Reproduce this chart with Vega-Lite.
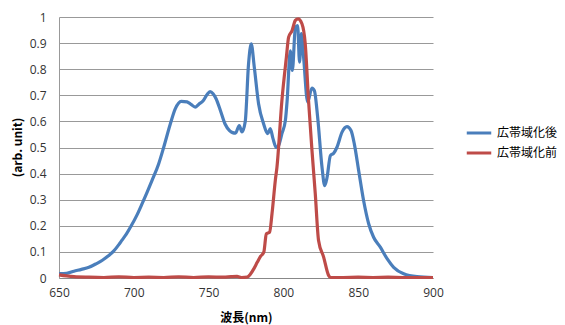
{
  "$schema": "https://vega.github.io/schema/vega-lite/v6.json",
  "width": 374,
  "height": 261,
  "autosize": {"type": "none"},
  "padding": {"left": 59, "top": 17, "right": 132, "bottom": 47},
  "background": "white",
  "config": {
    "view": {"stroke": null},
    "font": "Noto Sans CJK JP"
  },
  "data": {
    "values": [
      {"s": "広帯域化後", "x": 650, "y": 0.017}, {"s": "広帯域化後", "x": 655, "y": 0.018}, {"s": "広帯域化後", "x": 660, "y": 0.026}, {"s": "広帯域化後", "x": 665, "y": 0.033},
      {"s": "広帯域化後", "x": 670, "y": 0.041}, {"s": "広帯域化後", "x": 675, "y": 0.055}, {"s": "広帯域化後", "x": 679, "y": 0.068}, {"s": "広帯域化後", "x": 683, "y": 0.085},
      {"s": "広帯域化後", "x": 686.5, "y": 0.103}, {"s": "広帯域化後", "x": 690, "y": 0.128}, {"s": "広帯域化後", "x": 692, "y": 0.144}, {"s": "広帯域化後", "x": 695, "y": 0.168},
      {"s": "広帯域化後", "x": 698, "y": 0.197}, {"s": "広帯域化後", "x": 702, "y": 0.24}, {"s": "広帯域化後", "x": 705.5, "y": 0.284}, {"s": "広帯域化後", "x": 709, "y": 0.33},
      {"s": "広帯域化後", "x": 712.2, "y": 0.374}, {"s": "広帯域化後", "x": 716.6, "y": 0.437}, {"s": "広帯域化後", "x": 720, "y": 0.501}, {"s": "広帯域化後", "x": 724.4, "y": 0.59},
      {"s": "広帯域化後", "x": 727.7, "y": 0.648}, {"s": "広帯域化後", "x": 731.7, "y": 0.677}, {"s": "広帯域化後", "x": 735.6, "y": 0.675}, {"s": "広帯域化後", "x": 738.5, "y": 0.664},
      {"s": "広帯域化後", "x": 741, "y": 0.655}, {"s": "広帯域化後", "x": 743.5, "y": 0.666}, {"s": "広帯域化後", "x": 746.5, "y": 0.68}, {"s": "広帯域化後", "x": 749, "y": 0.703},
      {"s": "広帯域化後", "x": 751, "y": 0.714}, {"s": "広帯域化後", "x": 753, "y": 0.706}, {"s": "広帯域化後", "x": 755, "y": 0.687}, {"s": "広帯域化後", "x": 758, "y": 0.64},
      {"s": "広帯域化後", "x": 761, "y": 0.59}, {"s": "広帯域化後", "x": 764, "y": 0.565}, {"s": "広帯域化後", "x": 766, "y": 0.557}, {"s": "広帯域化後", "x": 768, "y": 0.555},
      {"s": "広帯域化後", "x": 770.5, "y": 0.584}, {"s": "広帯域化後", "x": 772.3, "y": 0.56}, {"s": "広帯域化後", "x": 774.5, "y": 0.6}, {"s": "広帯域化後", "x": 776.7, "y": 0.82},
      {"s": "広帯域化後", "x": 778.5, "y": 0.897}, {"s": "広帯域化後", "x": 780.5, "y": 0.81}, {"s": "広帯域化後", "x": 783.4, "y": 0.668}, {"s": "広帯域化後", "x": 786.8, "y": 0.59},
      {"s": "広帯域化後", "x": 789.5, "y": 0.553}, {"s": "広帯域化後", "x": 791.2, "y": 0.572}, {"s": "広帯域化後", "x": 793, "y": 0.535}, {"s": "広帯域化後", "x": 795.2, "y": 0.5},
      {"s": "広帯域化後", "x": 796.8, "y": 0.508}, {"s": "広帯域化後", "x": 799, "y": 0.553}, {"s": "広帯域化後", "x": 801.3, "y": 0.603}, {"s": "広帯域化後", "x": 802.5, "y": 0.68},
      {"s": "広帯域化後", "x": 804.6, "y": 0.87}, {"s": "広帯域化後", "x": 806, "y": 0.795}, {"s": "広帯域化後", "x": 808, "y": 0.96}, {"s": "広帯域化後", "x": 809.5, "y": 0.967},
      {"s": "広帯域化後", "x": 810.8, "y": 0.827}, {"s": "広帯域化後", "x": 812, "y": 0.936}, {"s": "広帯域化後", "x": 813.5, "y": 0.846}, {"s": "広帯域化後", "x": 816.2, "y": 0.674},
      {"s": "広帯域化後", "x": 819.1, "y": 0.728}, {"s": "広帯域化後", "x": 820.7, "y": 0.718}, {"s": "広帯域化後", "x": 822.9, "y": 0.616}, {"s": "広帯域化後", "x": 825.8, "y": 0.425},
      {"s": "広帯域化後", "x": 827.6, "y": 0.354}, {"s": "広帯域化後", "x": 829.2, "y": 0.386}, {"s": "広帯域化後", "x": 831.4, "y": 0.469}, {"s": "広帯域化後", "x": 833.6, "y": 0.478},
      {"s": "広帯域化後", "x": 835.8, "y": 0.501}, {"s": "広帯域化後", "x": 839.2, "y": 0.559}, {"s": "広帯域化後", "x": 842.5, "y": 0.58}, {"s": "広帯域化後", "x": 845.2, "y": 0.565},
      {"s": "広帯域化後", "x": 847.4, "y": 0.514}, {"s": "広帯域化後", "x": 850.3, "y": 0.412}, {"s": "広帯域化後", "x": 853.6, "y": 0.297}, {"s": "広帯域化後", "x": 857, "y": 0.208},
      {"s": "広帯域化後", "x": 860.3, "y": 0.156}, {"s": "広帯域化後", "x": 864.8, "y": 0.118}, {"s": "広帯域化後", "x": 869.3, "y": 0.074}, {"s": "広帯域化後", "x": 873.7, "y": 0.041},
      {"s": "広帯域化後", "x": 880.4, "y": 0.016}, {"s": "広帯域化後", "x": 889.3, "y": 0.005}, {"s": "広帯域化後", "x": 900, "y": 0.002},
      {"s": "広帯域化前", "x": 650, "y": 0.012}, {"s": "広帯域化前", "x": 655, "y": 0.008}, {"s": "広帯域化前", "x": 660, "y": 0.005}, {"s": "広帯域化前", "x": 670, "y": 0.003},
      {"s": "広帯域化前", "x": 680, "y": 0.002}, {"s": "広帯域化前", "x": 690, "y": 0.004}, {"s": "広帯域化前", "x": 700, "y": 0.002}, {"s": "広帯域化前", "x": 710, "y": 0.003},
      {"s": "広帯域化前", "x": 720, "y": 0.002}, {"s": "広帯域化前", "x": 730, "y": 0.004}, {"s": "広帯域化前", "x": 740, "y": 0.002}, {"s": "広帯域化前", "x": 750, "y": 0.004},
      {"s": "広帯域化前", "x": 760, "y": 0.003}, {"s": "広帯域化前", "x": 765, "y": 0.005}, {"s": "広帯域化前", "x": 769, "y": 0.006}, {"s": "広帯域化前", "x": 772, "y": 0.002},
      {"s": "広帯域化前", "x": 775.7, "y": 0.003}, {"s": "広帯域化前", "x": 778, "y": 0.015}, {"s": "広帯域化前", "x": 780.2, "y": 0.035}, {"s": "広帯域化前", "x": 782.5, "y": 0.06},
      {"s": "広帯域化前", "x": 784.6, "y": 0.082}, {"s": "広帯域化前", "x": 786.9, "y": 0.099}, {"s": "広帯域化前", "x": 788.6, "y": 0.169}, {"s": "広帯域化前", "x": 790.8, "y": 0.176},
      {"s": "広帯域化前", "x": 792.4, "y": 0.247}, {"s": "広帯域化前", "x": 794.6, "y": 0.374}, {"s": "広帯域化前", "x": 795.7, "y": 0.425}, {"s": "広帯域化前", "x": 799, "y": 0.68},
      {"s": "広帯域化前", "x": 802, "y": 0.846}, {"s": "広帯域化前", "x": 803.5, "y": 0.923}, {"s": "広帯域化前", "x": 805.8, "y": 0.948}, {"s": "広帯域化前", "x": 808, "y": 0.987},
      {"s": "広帯域化前", "x": 809.8, "y": 0.993}, {"s": "広帯域化前", "x": 812.4, "y": 0.974}, {"s": "広帯域化前", "x": 814.6, "y": 0.897}, {"s": "広帯域化前", "x": 816.8, "y": 0.68},
      {"s": "広帯域化前", "x": 819.1, "y": 0.489}, {"s": "広帯域化前", "x": 821.3, "y": 0.323}, {"s": "広帯域化前", "x": 823.5, "y": 0.144}, {"s": "広帯域化前", "x": 826.9, "y": 0.08},
      {"s": "広帯域化前", "x": 830.2, "y": 0.01}, {"s": "広帯域化前", "x": 831.5, "y": 0.002}, {"s": "広帯域化前", "x": 840, "y": 0.002}, {"s": "広帯域化前", "x": 850, "y": 0.003},
      {"s": "広帯域化前", "x": 860, "y": 0.002}, {"s": "広帯域化前", "x": 870, "y": 0.003}, {"s": "広帯域化前", "x": 880, "y": 0.002}, {"s": "広帯域化前", "x": 890, "y": 0.002},
      {"s": "広帯域化前", "x": 900, "y": 0.002}
    ]
  },
  "mark": {"type": "line", "strokeWidth": 3.2, "interpolate": "monotone"},
  "encoding": {
    "x": {
      "field": "x", "type": "quantitative",
      "scale": {"domain": [650, 900], "nice": false, "zero": false},
      "axis": {
        "values": [650, 700, 750, 800, 850, 900],
        "title": "波長(nm)", "titleFontSize": 12, "titleFontWeight": "bold", "titleColor": "#000",
        "titleY": 39, "titleBaseline": "middle",
        "labelFontSize": 12, "labelColor": "#333", "labelPadding": 9, "labelFont": "Open Sans",
        "labelFlush": false, "labelOverlap": false,
        "ticks": false, "grid": false, "domainColor": "#888", "domainWidth": 1
      }
    },
    "y": {
      "field": "y", "type": "quantitative",
      "scale": {"domain": [0, 1], "nice": false},
      "axis": {
        "values": [0, 0.1, 0.2, 0.3, 0.4, 0.5, 0.6, 0.7, 0.8, 0.9, 1],
        "format": ".1~f",
        "title": "(arb. unit)", "titleFontSize": 12, "titleFontWeight": "bold", "titleColor": "#000",
        "titleX": -42, "titleY": 130, "titleAngle": -90, "titleAlign": "center", "titleBaseline": "middle",
        "labelFontSize": 12, "labelColor": "#333", "labelPadding": 13, "labelFont": "Open Sans",
        "labelOverlap": false, "labelFlush": false,
        "ticks": false, "grid": true, "gridColor": "#999", "gridWidth": 1,
        "domainColor": "#999", "domainWidth": 1
      }
    },
    "color": {
      "field": "s", "type": "nominal",
      "scale": {"domain": ["広帯域化後", "広帯域化前"], "range": ["#4A7EBB", "#BE4B48"]},
      "legend": {
        "title": null, "orient": "none", "legendX": 406, "legendY": 102,
        "symbolType": "stroke", "symbolStrokeWidth": 3, "symbolSize": 600,
        "labelFontSize": 12, "labelColor": "#000", "rowPadding": 0, "labelOffset": 4
      }
    }
  }
}
